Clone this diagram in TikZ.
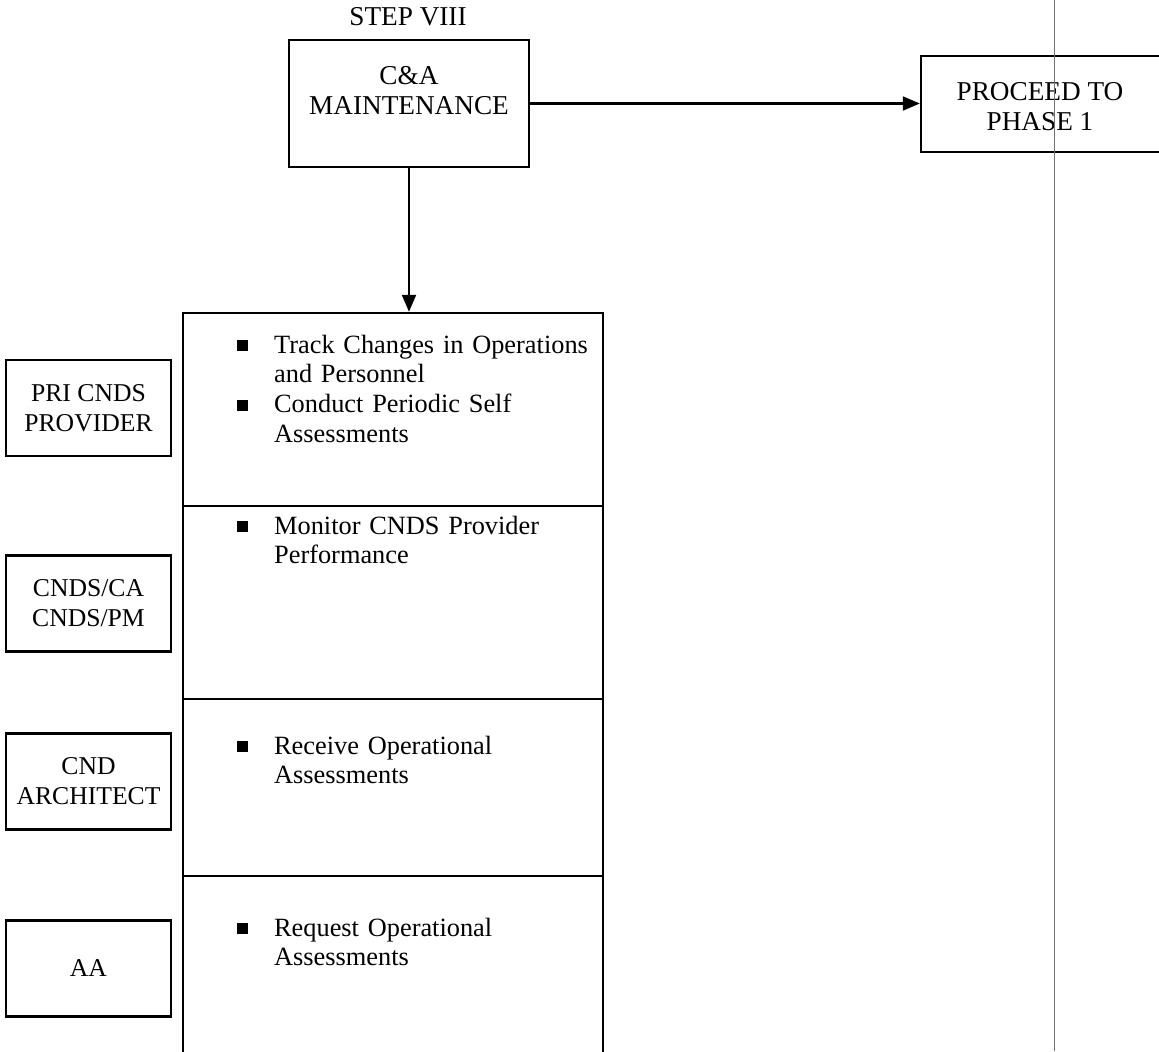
\documentclass[tikz,border=0pt]{standalone}
\usepackage{fontspec}
\setmainfont{Liberation Serif}
\usetikzlibrary{arrows.meta,positioning}

\tikzset{
	plainbox/.style={draw, line width=1.4pt, inner sep=0pt, align=center},
	rolebox/.style={plainbox, minimum width=3.3cm, minimum height=1.92cm, font=\fontsize{14.6}{17}\selectfont},
	secbox/.style={draw, line width=1.4pt, inner sep=0pt, minimum width=8.4cm},
	itemtext/.style={anchor=north west, inner sep=0pt, text width=7.3cm, align=left, font=\fontsize{15}{17}\selectfont},
	flowarrow/.style={line width=1.2pt, -{Triangle[length=0.34cm,width=0.28cm]}}
}
\newcommand{\sqitem}[1]{\par\noindent\hangindent=0.74cm\hangafter=1%
	\makebox[0.74cm][l]{\rule[0.04cm]{0.22cm}{0.22cm}}#1}

\begin{document}
\begin{tikzpicture}[x=0.02cm, y=-0.02cm, font=\fontsize{15.5}{17}\selectfont]
			\clip (0,0) rectangle (1159,1051);
			% top row
			\node (steplabel) at (408,17) {STEP VIII};
			\node[plainbox, minimum width=4.8cm, minimum height=2.54cm] (maint) at (409,103.5) {};
			\node[align=center] (mainttext) at (409,91) {C\&A\\MAINTENANCE};
			\node[plainbox, minimum width=4.8cm, minimum height=1.92cm] (phase) at (1041,104) {};
			\node[align=center] (phasetext) at (1040,107) {PROCEED TO\\PHASE 1};
			\draw[flowarrow] (maint.east) -- (maint.east -| phase.west);

			% task column
			\node[secbox, minimum height=3.86cm] (sec1) at (393,409.5) {};
			\node[secbox, minimum height=3.86cm] (sec2) at (393,602.5) {};
			\node[secbox, minimum height=3.54cm] (sec3) at (393,787.5) {};
			\node[secbox, minimum height=3.7cm] (sec4) at (393,968.5) {};
			\draw[flowarrow] (maint.south) -- (maint.south |- sec1.north);

			\node[itemtext] (task1) at ([shift={(55,11)}]sec1.north west) {\raggedright
				\sqitem{Track Changes in Operations\newline and Personnel}
				\sqitem{Conduct Periodic Self\newline Assessments}\par};
			\node[itemtext] (task2) at ([shift={(55,-1)}]sec2.north west) {\raggedright
				\sqitem{Monitor CNDS Provider\newline Performance}\par};
			\node[itemtext] (task3) at ([shift={(55,26)}]sec3.north west) {\raggedright
				\sqitem{Receive Operational\newline Assessments}\par};
			\node[itemtext] (task4) at ([shift={(55,31)}]sec4.north west) {\raggedright
				\sqitem{Request Operational\newline Assessments}\par};

			% roles
			\foreach \name/\ypos/\label in {pri/408/{PRI CNDS\\PROVIDER}, ca/603.5/{CNDS/CA\\CNDS/PM}, arch/781.5/{CND\\ARCHITECT}, aa/968.5/{AA}} {
				\node[rolebox] (\name) at (88.5,\ypos) {\label};
			};

			% page edge
			\draw[black!55, line width=0.5pt] (1054,0) -- (1054,1051);
		\end{tikzpicture}
\end{document}
